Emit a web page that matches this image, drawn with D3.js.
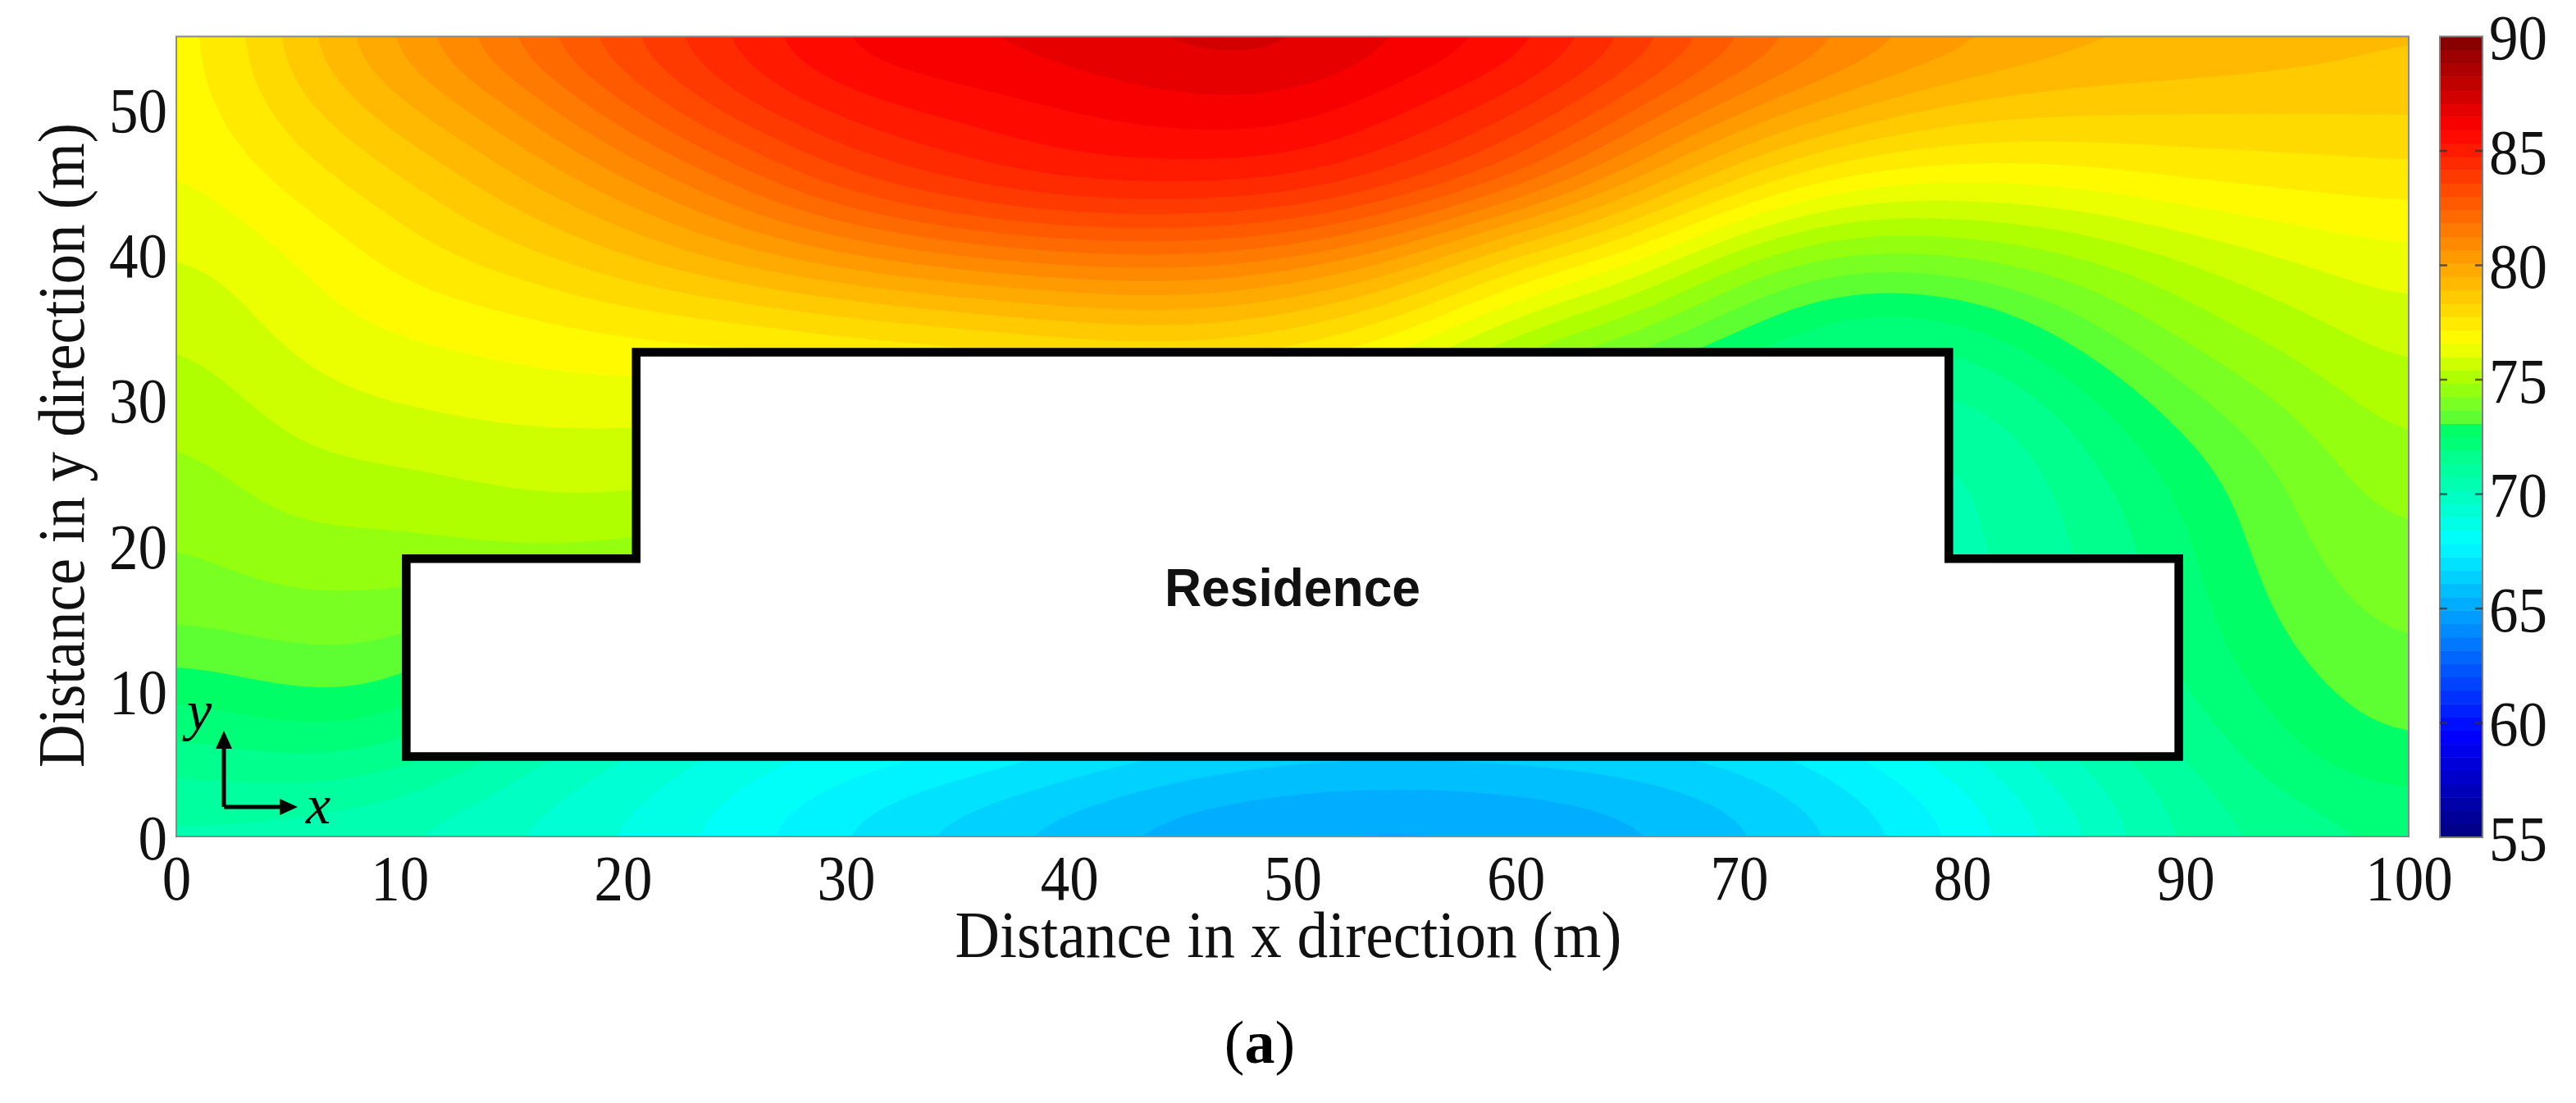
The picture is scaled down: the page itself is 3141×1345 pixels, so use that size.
<!DOCTYPE html>
<html>
<head>
<meta charset="utf-8">
<script src="https://cdn.jsdelivr.net/npm/d3@7"></script>
<style>
html,body{margin:0;padding:0;background:#fff;}
svg{display:block;}
text{font-family:"Liberation Serif",serif;fill:#111;}
</style>
</head>
<body>
<svg id="chart" width="3141" height="1345"></svg>
<script>
const xGrid = [0,5,10,15,20,25,30,35,40,45,50,55,60,65,70,75,80,85,90,95,100];
const yGrid = [55,50,45,40,35,30,25,20,15,10,5,0];
const rowY55 = [76.6,78.6,80.35,82.0,83.6,85.0,86.2,86.6,86.9,87.4,87.4,86.6,85.9,84.3,82.7,81.3,80.5,79.8,79.6,79.3,79.0];
const rowY50 = [76.65,78.0,79.3,80.6,82.3,83.9,85.0,85.5,85.9,86.2,86.2,85.4,84.3,82.6,80.8,79.6,78.7,78.5,78.4,78.4,78.45];
const rowY45 = [76.42,77.3,78.2,79.3,80.5,81.9,83.4,84.3,84.9,85.0,84.8,83.8,82.3,80.2,78.2,76.8,76.6,76.75,77.15,77.3,77.45];
const rowY40 = [75.9,76.55,77.4,78.1,78.9,79.8,80.6,81.3,81.7,81.8,81.3,80.1,78.2,76.9,75.0,74.1,74.25,74.8,75.5,76.1,76.45];
const rowY35 = [75.42,76.2,76.65,76.9,77.25,77.5,77.9,78.2,78.6,78.8,78.3,77.3,75.6,74.5,73.1,72.1,72.3,73.4,74.5,75.2,75.8];
const rowY30 = [74.97,75.7,76.05,76.25,76.3,76.2,76.3,76.4,76.5,76.5,76.2,75.0,73.6,72.4,71.6,71.3,71.2,72.2,73.5,74.4,75.2];
const rowY25 = [74.57,75.2,75.33,75.55,75.55,75.5,75.4,75.3,75.2,75.0,74.4,73.6,72.6,71.8,71.1,70.6,70.6,71.6,72.75,73.85,74.7];
const rowY20 = [74.17,74.67,74.67,74.9,74.95,74.4,73.9,73.5,73.2,72.9,72.6,72.2,71.7,71.2,70.8,70.5,70.6,71.3,72.4,73.6,74.2];
const rowY15 = [73.75,74.0,73.95,73.4,72.8,72.2,71.7,71.2,70.6,70.1,69.7,69.5,69.4,69.5,69.7,70.0,70.4,71.2,72.2,73.3,73.85];
const rowY10 = [72.6,73.08,73.0,71.6,70.7,69.8,69.2,68.9,68.4,67.9,67.6,67.5,67.6,67.8,68.2,68.9,69.8,71.0,71.9,72.9,73.45];
const rowY05 = [71.5,71.8,71.5,70.4,69.5,68.7,68.1,67.6,67.0,66.45,66.1,66.0,66.1,66.3,66.75,67.6,68.7,70.1,71.3,72.4,72.95];
const rowY00 = [70.5,70.3,70.0,69.5,68.85,68.05,67.05,66.25,65.6,65.0,64.7,64.6,64.75,65.2,65.8,66.75,67.85,69.3,70.85,71.5,71.9];
const fieldRows = [rowY55,rowY50,rowY45,rowY40,rowY35,rowY30,rowY25,rowY20,rowY15,rowY10,rowY05,rowY00];

const xTicks = [0,10,20,30,40,50,60,70,80,90,100];
const yTicks = [0,10,20,30,40,50];
const barTicks = [55,60,65,70,75,80,85,90];
const levelCount = 60;
const colorValues = [55,59.5,67.9,72.9,73.1,75,76.7,86,90];
const colorStops = ["#000080","#0000ff","#00ffff","#00ff64","#50ff3c","#aaff00","#ffff00","#ff0000","#800000"];

const residenceX = [10.3,20.6,20.6,79.4,79.4,89.7,89.7,10.3];
const residenceY = [19.1,19.1,33.3,33.3,19.1,19.1,5.5,5.5];

const svg = d3.select("#chart");
const x = d3.scaleLinear().domain([0,100]).range([215,2937]);
const y = d3.scaleLinear().domain([0,55]).range([1020,44.5]);
const barScale = d3.scaleLinear().domain([55,90]).range([1021,44.5]);
const color = d3.scaleLinear().domain(colorValues).range(colorStops).interpolate(d3.interpolateRgb).clamp(true);
const levels = d3.range(levelCount+1).map(i => 55 + i*35/levelCount);

// Smooth rendering surface through the read samples (the filled-contour surface itself)
const refine = 8;
function cr(p0,p1,p2,p3,t){return 0.5*((2*p1)+(-p0+p2)*t+(2*p0-5*p1+4*p2-p3)*t*t+(-p0+3*p1-3*p2+p3)*t*t*t);}
const nc = xGrid.length, nr = yGrid.length;
const gw = (nc-1)*refine+1, gh = (nr-1)*refine+1;
const surface = new Float64Array(gw*gh);
const at = (r,c) => fieldRows[Math.max(0,Math.min(nr-1,r))][Math.max(0,Math.min(nc-1,c))];
for (let j=0;j<gh;j++){
  const r=Math.floor(j/refine), tr=j/refine-r;
  for (let i=0;i<gw;i++){
    const c=Math.floor(i/refine), tc=i/refine-c;
    const col=[-1,0,1,2].map(dr=>cr(at(r+dr,c-1),at(r+dr,c),at(r+dr,c+1),at(r+dr,c+2),tc));
    surface[j*gw+i]=cr(col[0],col[1],col[2],col[3],tr);
  }
}
d3.blur2({data:surface,width:gw,height:gh},3);

svg.append("defs").append("clipPath").attr("id","plotClip").append("rect")
  .attr("x",x(0)).attr("y",y(55)).attr("width",x(100)-x(0)).attr("height",y(0)-y(55));

const field = svg.append("g").attr("clip-path","url(#plotClip)");
field.append("rect").attr("x",x(0)).attr("y",y(55)).attr("width",x(100)-x(0)).attr("height",y(0)-y(55))
  .attr("fill",color(60));
const gridToData = d3.geoTransform({point(gx,gy){
  this.stream.point(x((gx-0.5)/refine*5), y(55-(gy-0.5)/refine*5));
}});
const contourPath = d3.geoPath(gridToData);
const contours = d3.contours().size([gw,gh]).thresholds(levels.slice(0,-1))(Array.from(surface));
field.selectAll("path.band").data(contours).join("path").attr("class","band")
  .attr("d",contourPath)
  .attr("fill",d=>color(d.value+35/levelCount/2))
  .attr("stroke",d=>color(d.value+35/levelCount/2)).attr("stroke-width",0.6);

// frame
svg.append("rect").attr("x",x(0)).attr("y",y(55)).attr("width",x(100)-x(0)).attr("height",y(0)-y(55))
  .attr("fill","none").attr("stroke","#8a8a8a").attr("stroke-width",2);

// residence footprint
const outline = d3.line().x(d=>x(d[0])).y(d=>y(d[1])).curve(d3.curveLinearClosed);
svg.append("path").datum(d3.zip(residenceX,residenceY)).attr("d",outline)
  .attr("fill","#fff").attr("stroke","#000").attr("stroke-width",10.5).attr("stroke-linejoin","miter");
svg.append("text").attr("x",1576).attr("y",739).attr("text-anchor","middle")
  .attr("textLength",312).attr("lengthAdjust","spacingAndGlyphs")
  .style("font-family","'Liberation Sans',sans-serif").style("font-weight","700").style("font-size","64px").style("fill","#111")
  .text("Residence");

// axes
function styleAxis(g,w){
  g.select(".domain").remove();
  g.selectAll(".tick line").remove();
  g.selectAll("text").style("font-family","'Liberation Serif',serif").style("font-size","79px").attr("fill","#111")
    .each(function(d){
      const s=String(d);
      d3.select(this).attr("textLength",s.length*w).attr("lengthAdjust","spacingAndGlyphs");
    });
}
svg.append("g").attr("transform",`translate(0,${y(0)})`)
  .call(d3.axisBottom(x).tickValues(xTicks).tickSize(0).tickPadding(0))
  .call(g=>styleAxis(g,35.5))
  .call(g=>g.selectAll("text").attr("y",77).attr("dy",0));
svg.append("g").attr("transform",`translate(${x(0)},0)`)
  .call(d3.axisLeft(y).tickValues(yTicks).tickSize(0).tickPadding(0))
  .call(g=>styleAxis(g,35.5))
  .call(g=>g.selectAll("text").attr("x",-11).attr("dy",27));

svg.append("text").attr("x",1571).attr("y",1167).attr("text-anchor","middle")
  .attr("textLength",813).attr("lengthAdjust","spacingAndGlyphs").style("font-size","80px")
  .text("Distance in x direction (m)");
svg.append("text").attr("transform","translate(102,543) rotate(-90)").attr("text-anchor","middle")
  .attr("textLength",786).attr("lengthAdjust","spacingAndGlyphs").style("font-size","80px")
  .text("Distance in y direction (m)");

// direction glyph
const glyph = svg.append("g");
glyph.append("path").attr("d","M273,984V908M273,984H345").attr("fill","none").attr("stroke","#000").attr("stroke-width",5);
glyph.append("path").attr("d","M273,891L263,913H283Z M363,984L341,974V994Z").attr("fill","#000");
glyph.append("text").attr("x",373).attr("y",1004).style("font-size","68px").style("font-style","italic").style("fill","#000").text("x");
glyph.append("text").attr("x",228).attr("y",890).style("font-size","68px").style("font-style","italic").style("fill","#000").text("y");

// colour bar
const barX0=2975, barX1=3027;
const bar = svg.append("g");
bar.selectAll("rect.lvl").data(d3.pairs(levels)).join("rect").attr("class","lvl")
  .attr("x",barX0).attr("width",barX1-barX0)
  .attr("y",d=>barScale(d[1])).attr("height",d=>barScale(d[0])-barScale(d[1])+0.5)
  .attr("fill",d=>color((d[0]+d[1])/2));
bar.append("rect").attr("x",barX0).attr("y",barScale(90)).attr("width",barX1-barX0).attr("height",barScale(55)-barScale(90))
  .attr("fill","none").attr("stroke","#7d7d7d").attr("stroke-width",2);
bar.selectAll("path.tk").data(barTicks.slice(1,-1)).join("path").attr("class","tk")
  .attr("d",d=>`M${barX0},${barScale(d)}h9M${barX1},${barScale(d)}h-9`)
  .attr("stroke","#333").attr("stroke-width",2.5).attr("opacity",0.75);
svg.append("g").attr("transform",`translate(${barX1},0)`)
  .call(d3.axisRight(barScale).tickValues(barTicks).tickSize(0).tickPadding(0))
  .call(g=>styleAxis(g,35.5))
  .call(g=>g.selectAll("text").attr("x",8).attr("dy",27));

// panel tag
const tag = svg.append("text").attr("x",1536).attr("y",1296).attr("text-anchor","middle").style("font-size","74px").style("fill","#000");
tag.append("tspan").text("(");
tag.append("tspan").style("font-weight","700").text("a");
tag.append("tspan").text(")");
</script>
</body>
</html>
